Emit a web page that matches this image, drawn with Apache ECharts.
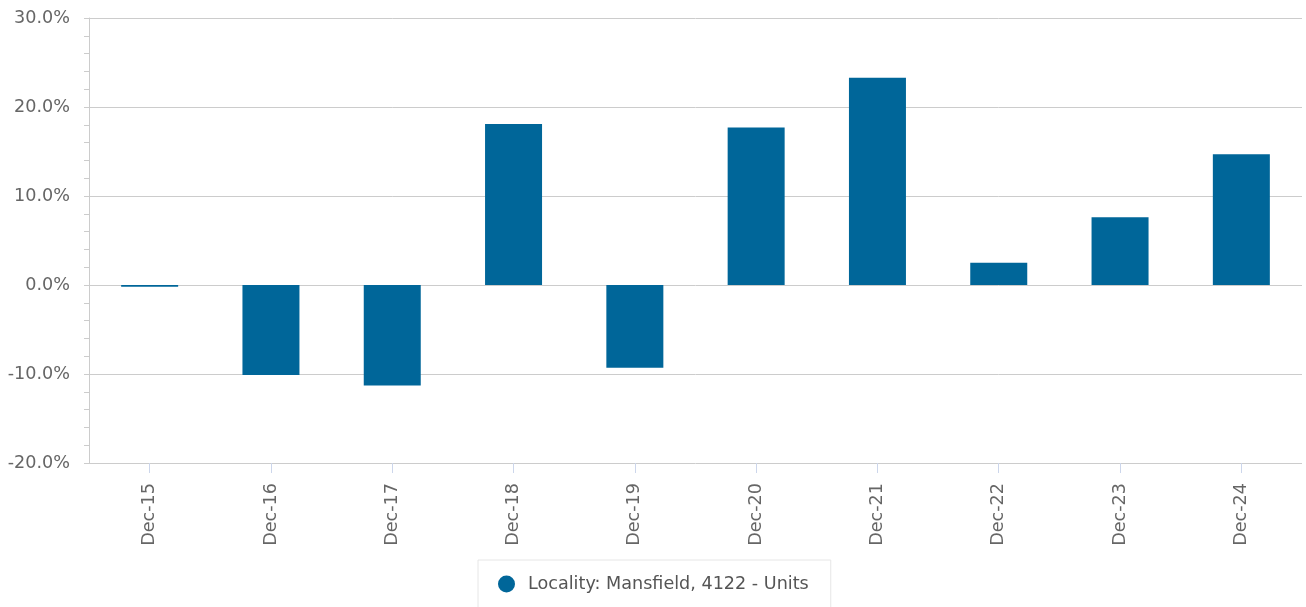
<!DOCTYPE html>
<html><head><meta charset="utf-8">
<script src="https://cdn.jsdelivr.net/npm/echarts@6/dist/echarts.min.js"></script>
<style>html,body{margin:0;padding:0;background:#fff}#c{width:1306px;height:607px}</style>
</head><body><div id="c"></div>
<script>
const categories = ["Dec-15","Dec-16","Dec-17","Dec-18","Dec-19","Dec-20","Dec-21","Dec-22","Dec-23","Dec-24"];
const values = [-0.2, -10.1, -11.3, 18.1, -9.3, 17.7, 23.3, 2.5, 7.6, 14.7];
const seriesName = "Locality: Mansfield, 4122 - Units";
const yMin = -20, yMax = 30, yInterval = 10;

const FS = 17.6;
const chart = echarts.init(document.getElementById('c'), null, {renderer:'canvas'});
chart.setOption({
  animation:false,
  textStyle:{fontFamily:'DejaVu Sans'},
  grid:{left:89, right:4, top:18, bottom:144, containLabel:false},
  xAxis:{
    type:'category', data:categories,
    axisLine:{show:false, onZero:false},
    axisTick:{show:true, alignWithLabel:true, length:10, lineStyle:{color:'#ccd6eb'}},
    axisLabel:{rotate:90, color:'#666', fontSize:FS, margin:20, fontFamily:'DejaVu Sans'},
    splitLine:{show:false}
  },
  yAxis:{
    type:'value', min:yMin, max:yMax, interval:yInterval,
    axisLine:{show:true, lineStyle:{color:'#ccc'}},
    axisTick:{show:true, length:5, lineStyle:{color:'#ccc'}},
    minorTick:{show:true, splitNumber:5, length:5, lineStyle:{color:'#ccc'}},
    axisLabel:{color:'#666', fontSize:FS, margin:19, formatter:v=>v.toFixed(1)+'%', fontFamily:'DejaVu Sans'},
    splitLine:{show:true, lineStyle:{color:'#ccc'}}
  },
  legend:{
    show:true, left:478, top:560, data:[{name:seriesName, icon:'circle'}],
    itemWidth:17, itemHeight:17, itemGap:0,
    padding:[15,22,16,20],
    borderColor:'#e6e6e6', borderWidth:1, borderRadius:0,
    textStyle:{color:'#555', fontSize:FS, fontFamily:'DejaVu Sans', padding:[0,0,0,8]}
  },
  series:[{
    name:seriesName, type:'bar', data:values, barWidth:57,
    itemStyle:{color:'#006699'}
  }]
});
</script></body></html>
